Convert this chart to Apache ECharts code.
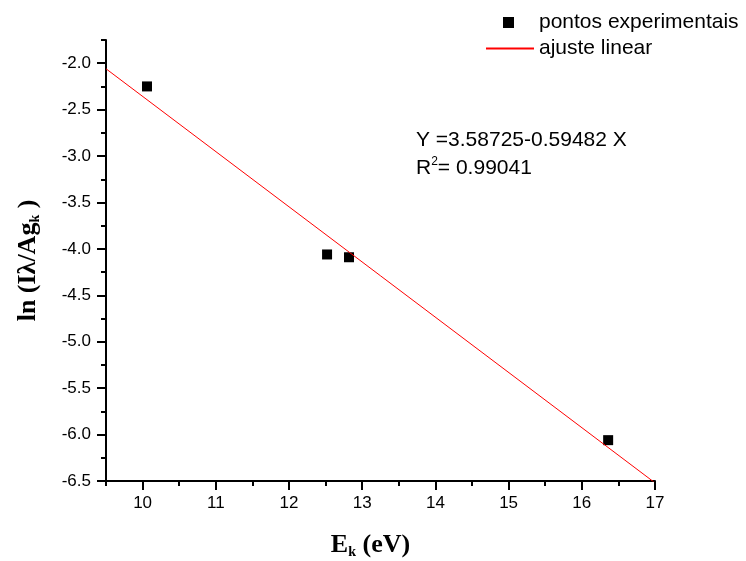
<!DOCTYPE html>
<html>
<head>
    <meta charset="utf-8">
    <title>ln(I lambda / A g_k) vs E_k</title>
    <script type="text/javascript" src="https://cdn.jsdelivr.net/npm/echarts@6/dist/echarts.min.js"></script>
    <style>
        html, body { margin: 0; padding: 0; background: #fff; }
    </style>
</head>
<body>
    <div id="main" style="width:746px;height:561px;"></div>

    <script type="text/javascript">
        // pontos experimentais
        var expE = [10.06, 12.52, 12.82, 16.36];
        var expLn = [-2.25, -4.06, -4.09, -6.06];

        // ajuste linear: extremos da reta desenhada
        var fitE = [9.5, 17];
        var fitLn = [-2.06, -6.52];

        // ticks principais
        var xMajor = [10, 11, 12, 13, 14, 15, 16, 17];
        var yMajor = [-6.5, -6.0, -5.5, -5.0, -4.5, -4.0, -3.5, -3.0, -2.5, -2.0];

        var sans = 'Liberation Sans';
        var serif = 'Liberation Serif';

        var myChart = echarts.init(document.getElementById('main'));

        var expData = [];
        for (var i = 0; i < expE.length; i++) {
            expData.push([expE[i], expLn[i]]);
        }
        var fitData = [];
        for (var i = 0; i < fitE.length; i++) {
            fitData.push([fitE[i], fitLn[i]]);
        }

        var axisLineStyle = { color: '#000', width: 2 };

        var option = {
            backgroundColor: '#fff',
            animation: false,
            grid: {
                left: 106, right: 91, top: 40, bottom: 80,
                containLabel: false,
                outerBoundsMode: 'none'
            },
            legend: [
                {
                    data: ['pontos experimentais'],
                    left: 503, top: 12,
                    padding: 0,
                    itemWidth: 11, itemHeight: 11,
                    icon: 'rect',
                    selectedMode: false,
                    itemStyle: { color: '#000', opacity: 1 },
                    textStyle: { fontSize: 21, fontFamily: sans, color: '#000', padding: [0, 0, 0, 20] }
                },
                {
                    // simbolo escondido: so a linha vermelha da serie
                    data: ['ajuste linear'],
                    left: 485, top: 38,
                    padding: 0,
                    itemWidth: 48, itemHeight: 14,
                    selectedMode: false,
                    itemStyle: { opacity: 0 },
                    textStyle: { fontSize: 21, fontFamily: sans, color: '#000' }
                }
            ],
            xAxis: [
                {
                    type: 'value',
                    min: 9.5, max: 17, interval: 0.5,
                    position: 'bottom',
                    name: 'E{sub|k} (eV)',
                    nameLocation: 'middle',
                    nameGap: 50,
                    nameTextStyle: {
                        fontFamily: serif, fontWeight: 'bold', fontSize: 26, color: '#000',
                        padding: [0, 20, 0, 0],
                        rich: {
                            sub: { fontFamily: serif, fontWeight: 'bold', fontSize: 14, color: '#000', padding: [14, 0, 0, 0] }
                        }
                    },
                    axisLine: { onZero: false, lineStyle: axisLineStyle },
                    axisTick: { inside: false, length: 5, lineStyle: { color: '#000', width: 2 } },
                    axisLabel: {
                        margin: 14, fontSize: 17, fontFamily: sans, color: '#000',
                        formatter: function (v) {
                            return Math.abs(v - Math.round(v)) < 1e-9 ? String(Math.round(v)) : '';
                        }
                    },
                    splitLine: { show: false }
                },
                {
                    type: 'value',
                    min: 9.5, max: 17,
                    position: 'bottom',
                    axisLine: { show: false, onZero: false },
                    axisTick: { length: 9, customValues: xMajor, lineStyle: { color: '#000', width: 2 } },
                    axisLabel: { show: false },
                    splitLine: { show: false }
                }
            ],
            yAxis: [
                {
                    type: 'value',
                    min: -6.5, max: -1.75, interval: 0.25,
                    position: 'left',
                    name: 'ln (Iλ/Ag{sub|k} )',
                    nameLocation: 'middle',
                    nameRotate: 90,
                    nameGap: 64,
                    nameTextStyle: {
                        fontFamily: serif, fontWeight: 'bold', fontSize: 26, color: '#000',
                        rich: {
                            sub: { fontFamily: serif, fontWeight: 'bold', fontSize: 14, color: '#000', padding: [14, 0, 0, 0] }
                        }
                    },
                    axisLine: { onZero: false, lineStyle: axisLineStyle },
                    axisTick: { inside: false, length: 5, lineStyle: { color: '#000', width: 2 } },
                    axisLabel: {
                        margin: 15, fontSize: 17, fontFamily: sans, color: '#000',
                        formatter: function (v) {
                            return Math.abs(v * 2 - Math.round(v * 2)) < 1e-9 ? v.toFixed(1) : '';
                        }
                    },
                    splitLine: { show: false }
                },
                {
                    type: 'value',
                    min: -6.5, max: -1.75,
                    position: 'left',
                    axisLine: { show: false, onZero: false },
                    axisTick: { length: 9, customValues: yMajor, lineStyle: { color: '#000', width: 2 } },
                    axisLabel: { show: false },
                    splitLine: { show: false }
                }
            ],
            graphic: [
                {
                    type: 'text',
                    left: 416, top: 126,
                    style: {
                        text: 'Y =3.58725-0.59482 X\nR{sup|2}= 0.99041',
                        fontFamily: sans, fontSize: 21, lineHeight: 28, fill: '#000',
                        rich: {
                            sup: { fontFamily: sans, fontSize: 12, fill: '#000', padding: [0, 0, 12, 0] }
                        }
                    }
                }
            ],
            series: [
                {
                    name: 'pontos experimentais',
                    type: 'scatter',
                    xAxisIndex: 0, yAxisIndex: 0,
                    symbol: 'rect',
                    symbolSize: 10,
                    itemStyle: { color: '#000', opacity: 1 },
                    data: expData
                },
                {
                    name: 'ajuste linear',
                    type: 'line',
                    xAxisIndex: 0, yAxisIndex: 0,
                    showSymbol: false,
                    symbol: 'none',
                    lineStyle: { color: '#ff0000', width: 1 },
                    itemStyle: { color: '#ff0000' },
                    data: fitData
                }
            ]
        };

        myChart.setOption(option);
    </script>
</body>
</html>
